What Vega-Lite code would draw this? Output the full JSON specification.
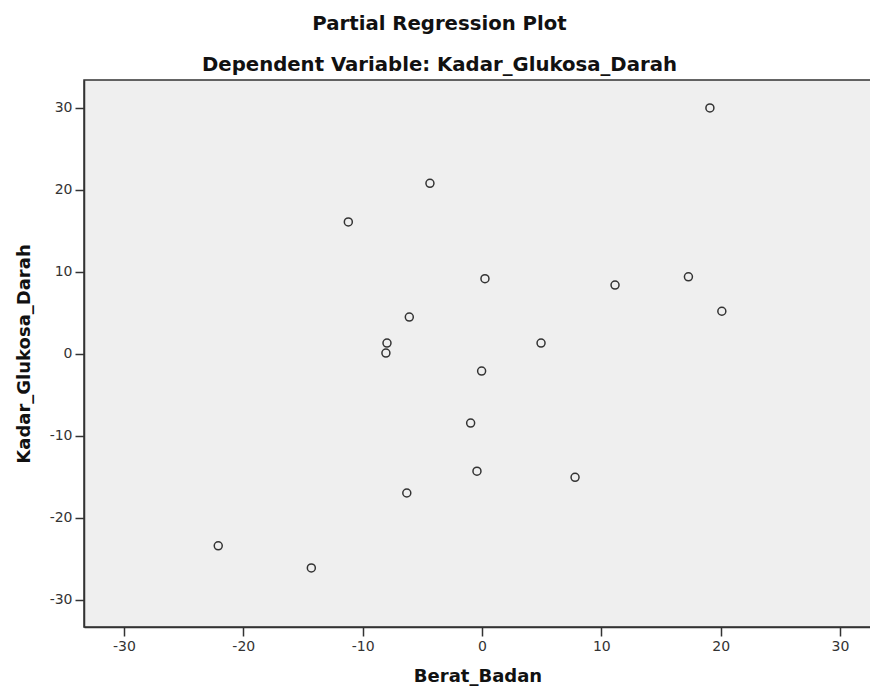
{
  "$schema": "https://vega.github.io/schema/vega-lite/v6.json",
  "width": 787,
  "height": 547,
  "autosize": {"type": "none"},
  "padding": {"left": 84, "top": 80, "right": 0, "bottom": 70},
  "background": "white",
  "title": {
    "text": ["Partial Regression Plot", "Dependent Variable: Kadar_Glukosa_Darah"],
    "anchor": "middle",
    "dx": -38,
    "offset": 5,
    "fontSize": 19.7,
    "lineHeight": 41,
    "font": "DejaVu Sans",
    "fontWeight": "bold",
    "color": "#111"
  },
  "config": {
    "view": {"fill": "#efefef", "stroke": "#333", "strokeWidth": 1.5},
    "axis": {
      "grid": false,
      "domainColor": "#333",
      "domainWidth": 1.5,
      "tickColor": "#333",
      "tickWidth": 1.5,
      "tickSize": 9,
      "labelFont": "DejaVu Sans",
      "labelFontSize": 14,
      "labelColor": "#333",
      "labelExpr": "replace(datum.label, '−', '-')",
      "titleFont": "DejaVu Sans",
      "titleFontWeight": "bold",
      "titleFontSize": 18,
      "titleColor": "#111"
    }
  },
  "data": {
    "values": [
      {"Berat_Badan": 19.1, "Kadar_Glukosa_Darah": 30.0},
      {"Berat_Badan": -4.36, "Kadar_Glukosa_Darah": 20.8},
      {"Berat_Badan": -11.2, "Kadar_Glukosa_Darah": 16.1},
      {"Berat_Badan": 0.25, "Kadar_Glukosa_Darah": 9.17},
      {"Berat_Badan": 11.15, "Kadar_Glukosa_Darah": 8.4},
      {"Berat_Badan": 17.3, "Kadar_Glukosa_Darah": 9.4},
      {"Berat_Badan": 20.1, "Kadar_Glukosa_Darah": 5.2},
      {"Berat_Badan": -6.09, "Kadar_Glukosa_Darah": 4.49},
      {"Berat_Badan": -7.96, "Kadar_Glukosa_Darah": 1.32},
      {"Berat_Badan": -8.05, "Kadar_Glukosa_Darah": 0.1},
      {"Berat_Badan": 4.95, "Kadar_Glukosa_Darah": 1.32},
      {"Berat_Badan": -0.03, "Kadar_Glukosa_Darah": -2.09},
      {"Berat_Badan": -0.95, "Kadar_Glukosa_Darah": -8.43},
      {"Berat_Badan": -0.42, "Kadar_Glukosa_Darah": -14.3},
      {"Berat_Badan": 7.8, "Kadar_Glukosa_Darah": -15.05},
      {"Berat_Badan": -6.3, "Kadar_Glukosa_Darah": -16.96},
      {"Berat_Badan": -22.1, "Kadar_Glukosa_Darah": -23.4},
      {"Berat_Badan": -14.3, "Kadar_Glukosa_Darah": -26.1}
    ]
  },
  "mark": {"type": "point", "shape": "circle", "filled": false, "size": 64, "stroke": "#333", "strokeWidth": 1.5, "opacity": 1},
  "encoding": {
    "x": {
      "field": "Berat_Badan",
      "type": "quantitative",
      "title": "Berat_Badan",
      "scale": {"domain": [-33.35, 32.6], "nice": false, "zero": false},
      "axis": {"values": [-30, -20, -10, 0, 10, 20, 30], "titlePadding": 14, "labelPadding": 3}
    },
    "y": {
      "field": "Kadar_Glukosa_Darah",
      "type": "quantitative",
      "title": "Kadar_Glukosa_Darah",
      "scale": {"domain": [-33.3, 33.4], "nice": false, "zero": false},
      "axis": {"values": [-30, -20, -10, 0, 10, 20, 30], "titlePadding": 16, "labelPadding": 3}
    }
  }
}
